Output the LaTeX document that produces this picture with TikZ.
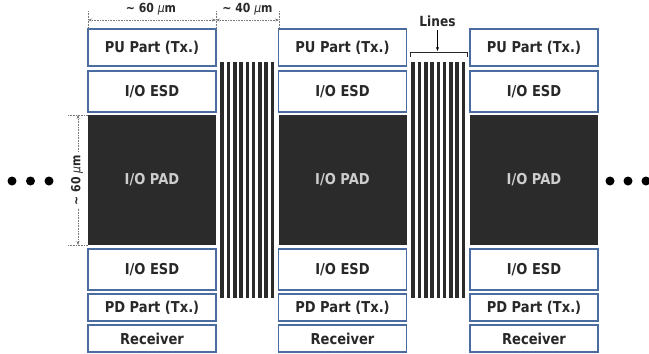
\documentclass[tikz,border=0pt]{standalone}
\usepackage{fontspec}
\setmainfont{DejaVu Sans}
\newfontfamily\labfont[FakeStretch=0.87]{DejaVu Sans}
\usetikzlibrary{arrows.meta}
\definecolor{boxblue}{RGB}{74,108,160}
\definecolor{padgray}{RGB}{43,43,43}
\definecolor{txtgray}{RGB}{40,40,40}
\definecolor{padtxt}{RGB}{205,205,205}
\definecolor{dimgray}{RGB}{120,120,120}
\tikzset{
  blk/.style={draw=boxblue, line width=1.1pt, fill=white, inner sep=0pt,
    font=\labfont\bfseries\fontsize{15}{17}\selectfont, text=txtgray,
    minimum width=#1},
  blk/.default=128pt,
  padbox/.style={fill=padgray, inner sep=0pt, minimum width=128pt, minimum height=130pt,
    font=\labfont\bfseries\fontsize{15}{17}\selectfont, text=padtxt},
  dimline/.style={densely dotted, draw=dimgray, line width=0.6pt},
  dimarrow/.style={dimline, {Stealth[length=4pt,width=3pt,fill=black]}-{Stealth[length=4pt,width=3pt,fill=black]}},
  dimtext/.style={font=\labfont\bfseries\fontsize{12.5}{14}\selectfont, text=txtgray},
  dot/.style={circle, fill=black, inner sep=0pt, minimum size=9pt}
}
\newcommand{\micro}{\textit{\mdseries μ}}
\begin{document}
\begin{tikzpicture}[x=1pt,y=-1pt]
\useasboundingbox (0,0) rectangle (649,354);
% stripes
\foreach \s in {220.3,411.3}{
  \foreach \i in {0,...,8}{
    \fill[padgray] ({\s+\i*6.3},62) rectangle ({\s+\i*6.3+3.6},298);
  }
}
% columns
\foreach \c/\x in {a/152,b/342.5,c/534}{
  \node[blk, minimum height=37pt] (pu\c) at (\x,47.5) {PU Part (Tx.)};
  \node[blk, minimum height=41pt] (esdt\c) at (\x,91.5) {I/O ESD};
  \node[padbox] (pad\c) at (\x,180) {I/O PAD};
  \node[blk, minimum height=41pt] (esdb\c) at (\x,269.5) {I/O ESD};
  \node[blk, minimum height=27pt] (pd\c) at (\x,307.5) {PD Part (Tx.)};
  \node[blk, minimum height=27pt] (rx\c) at (\x,338.5) {Receiver};
}
% dots
\node[dot] (l1) at (12,181) {};
\node[dot] (l2) at (30.5,181) {};
\node[dot] (l3) at (49,181) {};
\node[dot] (r1) at (610,181) {};
\node[dot] (r2) at (628,181) {};
\node[dot] (r3) at (646,181) {};
% top dimensions
\coordinate (e1t) at (88,11); \coordinate (e1b) at (88,29);
\coordinate (e2t) at (216,11); \coordinate (e2b) at (216,29);
\coordinate (e3t) at (279,11); \coordinate (e3b) at (279,29);
\draw[dimline] (e1t) -- (e1b);
\draw[dimline] (e2t) -- (e2b);
\draw[dimline] (e3t) -- (e3b);
\coordinate (a1) at (88,20); \coordinate (a2) at (216,20); \coordinate (a3) at (279,20);
\draw[dimarrow] (a1) -- (a2);
\draw[dimarrow] (a2) -- (a3);
\node[dimtext] (d60) at (151,9) {\textasciitilde\ 60 \micro m};
\node[dimtext] (d40) at (247.5,9) {\textasciitilde\ 40 \micro m};
% left vertical dimension
\coordinate (h1l) at (68,115); \coordinate (h1r) at (88,115);
\coordinate (h2l) at (68,245); \coordinate (h2r) at (88,245);
\draw[dimline] (h1l) -- (h1r);
\draw[dimline] (h2l) -- (h2r);
\coordinate (v1) at (78,115); \coordinate (v2) at (78,245);
\draw[dimarrow] (v1) -- (v2);
\node[dimtext, fill=white, rotate=90, inner sep=3pt] (v60) at (77,180) {\textasciitilde\ 60 \micro m};
% Lines label
\node[dimtext, font=\labfont\bfseries\fontsize{14}{16}\selectfont] (lines) at (437.5,21) {Lines};
\coordinate (br) at (437.5,51);
\draw[line width=0.7pt, draw=txtgray] (410,57) -- (410,52) -- (467,52) -- (467,57);
\draw[line width=0.6pt, -{Stealth[length=4pt,width=3pt]}] (lines.south) -- (br);
\end{tikzpicture}
\end{document}
